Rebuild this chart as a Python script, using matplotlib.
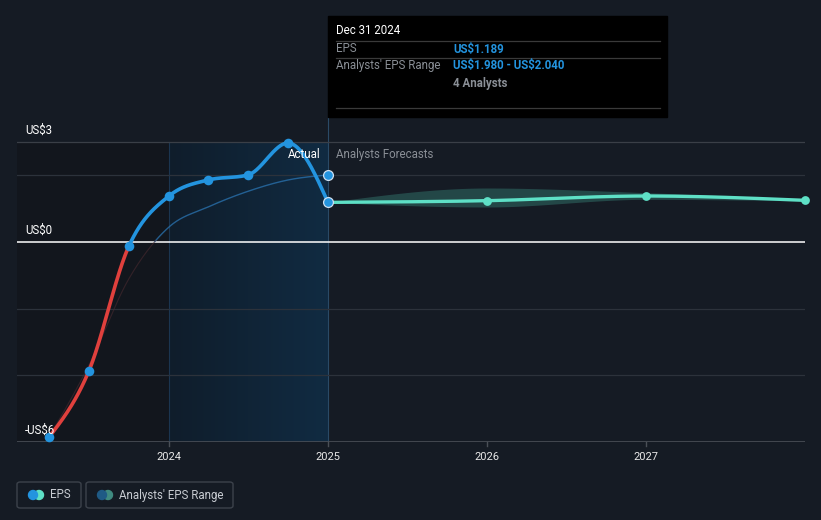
import numpy as np
import matplotlib
matplotlib.use("Agg")
import matplotlib.pyplot as plt
from matplotlib.patches import FancyBboxPatch, Rectangle, Ellipse
from matplotlib.colors import LinearSegmentedColormap

plt.rcParams['font.family'] = ['Roboto', 'DejaVu Sans']

# ---------------- data ----------------
hist_x = [2023.246, 2023.496, 2023.748, 2024.0, 2024.246, 2024.496, 2024.748, 2025.0]
hist_eps = [-5.85, -3.87, -0.12, 1.38, 1.86, 2.01, 2.97, 1.189]
cons_x = [2023.246, 2023.496, 2023.748, 2024.0, 2024.246, 2024.496, 2024.748, 2025.0]
cons_eps = [-5.85, -3.70, -1.10, 0.45, 1.05, 1.52, 1.86, 2.01]
fc_x = [2025.0, 2026.0, 2027.0, 2028.0]
fc_eps = [1.189, 1.24, 1.38, 1.25]
fc_low = [1.189, 1.05, 1.28, 1.23]
fc_high = [1.189, 1.62, 1.48, 1.28]
year_ticks = [2024, 2025, 2026, 2027]
y_labels = {3: "US$3", 0: "US$0", -6: "-US$6"}
grid_vals = [3, 2, -2, -4]

BG = "#151b24"


def monotone(x, y, n=500):
    """d3 curveMonotoneX style rendering through the given points."""
    x = np.asarray(x, float); y = np.asarray(y, float)
    h = np.diff(x); s = np.diff(y) / h
    m = np.zeros_like(y)
    for i in range(1, len(y) - 1):
        p = (s[i-1] * h[i] + s[i] * h[i-1]) / (h[i-1] + h[i])
        m[i] = (np.sign(s[i-1]) + np.sign(s[i])) * min(abs(s[i-1]), abs(s[i]), 0.5 * abs(p))
    m[0] = (3 * s[0] - m[1]) / 2 if len(y) > 2 else s[0]
    m[-1] = (3 * s[-1] - m[-2]) / 2 if len(y) > 2 else s[-1]
    xs = np.linspace(x[0], x[-1], n)
    ys = np.empty_like(xs)
    for k, xv in enumerate(xs):
        i = min(np.searchsorted(x, xv, side="right") - 1, len(x) - 2)
        t = (xv - x[i]) / h[i]
        h00 = 2*t**3 - 3*t**2 + 1; h10 = t**3 - 2*t**2 + t
        h01 = -2*t**3 + 3*t**2; h11 = t**3 - t**2
        ys[k] = h00*y[i] + h10*h[i]*m[i] + h01*y[i+1] + h11*h[i]*m[i+1]
    return xs, ys


W, H = 821, 520
fig = plt.figure(figsize=(W/100, H/100), dpi=100, facecolor=BG)

ax_left, ax_right, ax_top, ax_bot = 17, 805, 118, 442
ax = fig.add_axes([ax_left/W, 1 - ax_bot/H, (ax_right-ax_left)/W, (ax_bot-ax_top)/H])
ax.set_facecolor(BG)
x0 = 2024 - (169 - 17) / 159.0
x1 = 2024 + (805 - 169) / 159.0
ax.set_xlim(x0, x1)
ytop = -6 + (442 - 118) / (100/3.0)
ax.set_ylim(-6, ytop)
for sp in ax.spines.values():
    sp.set_visible(False)
ax.set_xticks([]); ax.set_yticks([])

# background regions
ax.fill_between([x0, 2024], -6, 3, color="#12161d", zorder=0, lw=0)
grad = np.linspace(0, 1, 256).reshape(1, -1)
cmap = LinearSegmentedColormap.from_list("g", ["#0f1d2b", "#112b42"])
ax.imshow(grad, extent=[2024, 2025, -6, 3], aspect="auto", cmap=cmap, zorder=0.5)
ax.plot([2024, 2024], [-6, 3], color="#1b3550", lw=0.8, zorder=0.6)
ax.plot([2025, 2025], [-6, ytop], color="#2a4a66", lw=0.8, zorder=0.6)

# grid
for g in grid_vals:
    ax.axhline(g, color="#2c323b" if g != 3 else "#3a3f47", lw=0.9, zorder=1)
ax.axhline(0, color="#ffffff", lw=1.1, zorder=1.5)
ax.axhline(-6, color="#4a4f57", lw=1.2, zorder=1.5)
for t in year_ticks:
    ax.plot([t, t], [-6, -6.12], color="#4a4f57", lw=1, clip_on=False)
    ax.text(t, -6.44, str(t), color="#e8e8e8", fontsize=8,
            ha="center", va="center", clip_on=False)

# consensus history (thin)
cx, cy = monotone(cons_x, cons_eps)
ax.plot(cx, np.where(cy >= 0, cy, np.nan), color="#2a75b3", lw=1.0, alpha=0.75, zorder=2)
ax.plot(cx, np.where(cy <= 0.05, cy, np.nan), color="#4a2a30", lw=0.8, alpha=0.6, zorder=2)

# forecast band
bx, bl = monotone(fc_x, fc_low)
_, bh = monotone(fc_x, fc_high)
ax.fill_between(bx, bl, bh, color="#3a8a7e", alpha=0.4, lw=0, zorder=2)

# EPS history line
hx, hy = monotone(hist_x, hist_eps)
ax.plot(hx, np.where(hy <= 0.02, hy, np.nan), color="#e0403d", lw=2.6, zorder=3,
        solid_capstyle="round")
ax.plot(hx, np.where(hy >= -0.02, hy, np.nan), color="#2394df", lw=2.6, zorder=3,
        solid_capstyle="round")
ax.scatter(hist_x[:-1], hist_eps[:-1], s=48, c="#2394df", zorder=4, lw=0)
ax.scatter([hist_x[-1], cons_x[-1]], [hist_eps[-1], cons_eps[-1]], s=50,
           facecolors="#2394df", edgecolors="#cfe0f0", linewidths=0.9, zorder=6)

# forecast line
fx, fy = monotone(fc_x, fc_eps)
ax.plot(fx, fy, color="#5ee0c6", lw=2.4, zorder=4)
ax.scatter(fc_x[1:], fc_eps[1:], s=40, c="#5ee0c6", zorder=5, lw=0, clip_on=False)

# labels in axes
ax.text(2025 - 0.05, 2.62, "Actual", color="#ffffff", fontsize=8.3, ha="right", va="center")
ax.text(2025 + 0.05, 2.62, "Analysts Forecasts", color="#8a8f96", fontsize=8.3,
        ha="left", va="center")

# y labels (figure coords)
for v, lab in y_labels.items():
    py = 242 - v * 100/3.0 - 12
    fig.text(25/W, 1 - py/H, lab, color="#ffffff", fontsize=8.3, ha="left", va="center",
             parse_math=False)

# tooltip
fig.patches.append(Rectangle((328/W, 1 - 117/H), (667-328)/W, (117-16)/H,
                             transform=fig.transFigure, color="#000000", zorder=10))
for ly in [41, 58, 108]:
    fig.lines.append(plt.Line2D([336/W, 660/W], [1 - ly/H, 1 - ly/H],
                                transform=fig.transFigure, color="#3a3a3a", lw=0.9, zorder=11))
fig.text(336/W, 1 - 31/H, "Dec 31 2024", color="#ffffff", fontsize=8.3, va="center", zorder=12)
fig.text(336/W, 1 - 49/H, "EPS", color="#8a8f96", fontsize=8.3, va="center", zorder=12)
fig.text(453/W, 1 - 49/H, "US$1.189", color="#2394df", fontsize=8.3, va="center",
         fontweight="bold", zorder=12, parse_math=False)
fig.text(336/W, 1 - 66/H, "Analysts' EPS Range", color="#8a8f96", fontsize=8.3,
         va="center", zorder=12)
fig.text(453/W, 1 - 66/H, "US$1.980 - US$2.040", color="#2394df", fontsize=8.3,
         va="center", fontweight="bold", zorder=12, parse_math=False)
fig.text(453/W, 1 - 83/H, "4 Analysts", color="#8a8f96", fontsize=8.3, va="center",
         fontweight="bold", zorder=12)


# legend
def legend_box(xl, xr, c1, c2, label):
    fig.patches.append(FancyBboxPatch((xl/W, 1 - 508/H), (xr-xl)/W, 26/H,
                       boxstyle="round,pad=0,rounding_size=0.004", transform=fig.transFigure,
                       facecolor=BG, edgecolor="#3c424b", lw=1.0))
    cy_ = 1 - 495/H
    fig.patches.append(Ellipse(((xl+22)/W, cy_), 9/W, 9/H, transform=fig.transFigure,
                               color=c2, zorder=3))
    fig.patches.append(Ellipse(((xl+16)/W, cy_), 9/W, 9/H, transform=fig.transFigure,
                               color=c1, zorder=4))
    fig.text((xl+33)/W, cy_, label, color="#c8ccd2", fontsize=8.3, va="center")


legend_box(17, 81, "#2394df", "#5ee0c6", "EPS")
legend_box(86, 233, "#1f5a85", "#3f8a80", "Analysts' EPS Range")

fig.savefig("out.png", dpi=100, facecolor=BG)
